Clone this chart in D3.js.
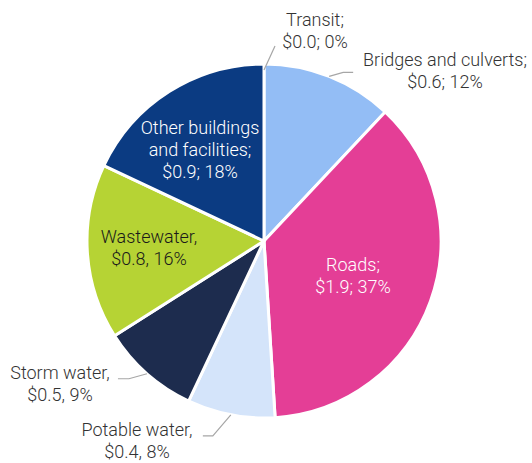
<!DOCTYPE html>
<html>
<head>
<meta charset="utf-8">
<script src="https://cdn.jsdelivr.net/npm/d3@7"></script>
<style>
  body { margin: 0; background: #fff; }
  svg text { font-family: Roboto, "Liberation Sans", Arial, sans-serif; font-weight: 300; font-size: 18px; }
</style>
</head>
<body>
<div id="chart"></div>
<script>
// slice data, clockwise from 12 o'clock
var categories = ["Transit", "Bridges and culverts", "Roads", "Potable water", "Storm water", "Wastewater", "Other buildings and facilities"];
var dollars = ["$0.0", "$0.6", "$1.9", "$0.4", "$0.5", "$0.8", "$0.9"];
var shares = [0, 12, 37, 8, 9, 16, 18];
var separators = [";", ";", ";", ",", ",", ",", ";"];

var colors = ["#0B3B82", "#93BDF5", "#E43E96", "#D4E4FA", "#1D2C4E", "#B6D334", "#0B3B82"];

// label layout: [dx, dy] of first line centre from pie centre, leader bend, text colour
var layout = [
  {x: 51, y: -221, leader: [11, -24, 0], fill: "#333"},
  {x: 181, y: -181, leader: [14, -4, 10], fill: "#333"},
  {x: 89, y: 24, fill: "#fff"},
  {x: -127, y: 189, leader: [-18, 21, -10], fill: "#333"},
  {x: -204, y: 132, leader: [-18, 5, -11], fill: "#333"},
  {x: -115, y: -4, fill: "#1a1a1a"},
  {x: -64, y: -113, fill: "#fff"}
];

function lines(i) {
  if (i == 6) return ["Other buildings", "and facilities;", dollars[i] + "; " + shares[i] + "%"];
  var s = separators[i];
  return [categories[i] + s, dollars[i] + s + " " + shares[i] + "%"];
}

var width = 532, height = 463;
var cx = 264, cy = 241, radius = 177;

var svg = d3.select("#chart").append("svg")
  .attr("width", width)
  .attr("height", height);

var g = svg.append("g").attr("transform", "translate(" + cx + "," + cy + ")");

var pie = d3.pie().sort(null).value(function(d) { return d; });
var slices = pie(shares);

var arc = d3.arc().innerRadius(0).outerRadius(radius);
var edgeArc = d3.arc().innerRadius(radius).outerRadius(radius);

g.selectAll("path.slice")
  .data(slices)
  .enter()
  .append("path")
  .attr("class", "slice")
  .attr("d", arc)
  .attr("fill", function(d, i) { return colors[i]; })
  .attr("stroke", "white")
  .attr("stroke-width", 3)
  .attr("stroke-linejoin", "round");

// leader lines for outside labels
g.selectAll("polyline.leader")
  .data(slices.filter(function(d, i) { return layout[i].leader; }))
  .enter()
  .append("polyline")
  .attr("class", "leader")
  .attr("fill", "none")
  .attr("stroke", "#a6a6a6")
  .attr("stroke-width", 1.2)
  .attr("points", function(d) {
    var L = layout[d.index].leader;
    var p = edgeArc.centroid(d);
    if (d.index == 0) p = [0, -radius + 6];
    var b = [p[0] + L[0], p[1] + L[1]];
    var e = [b[0] + L[2], b[1]];
    return [p, b, e].join(" ");
  });

// labels
var labels = g.selectAll("text.label")
  .data(slices)
  .enter()
  .append("text")
  .attr("class", "label")
  .attr("text-anchor", "middle")
  .attr("fill", function(d, i) { return layout[i].fill; });

labels.each(function(d, i) {
  var t = d3.select(this);
  lines(i).forEach(function(s, k) {
    t.append("tspan")
      .attr("x", layout[i].x)
      .attr("y", layout[i].y + k * 22 + 6)
      .text(s);
  });
});
</script>
</body>
</html>
